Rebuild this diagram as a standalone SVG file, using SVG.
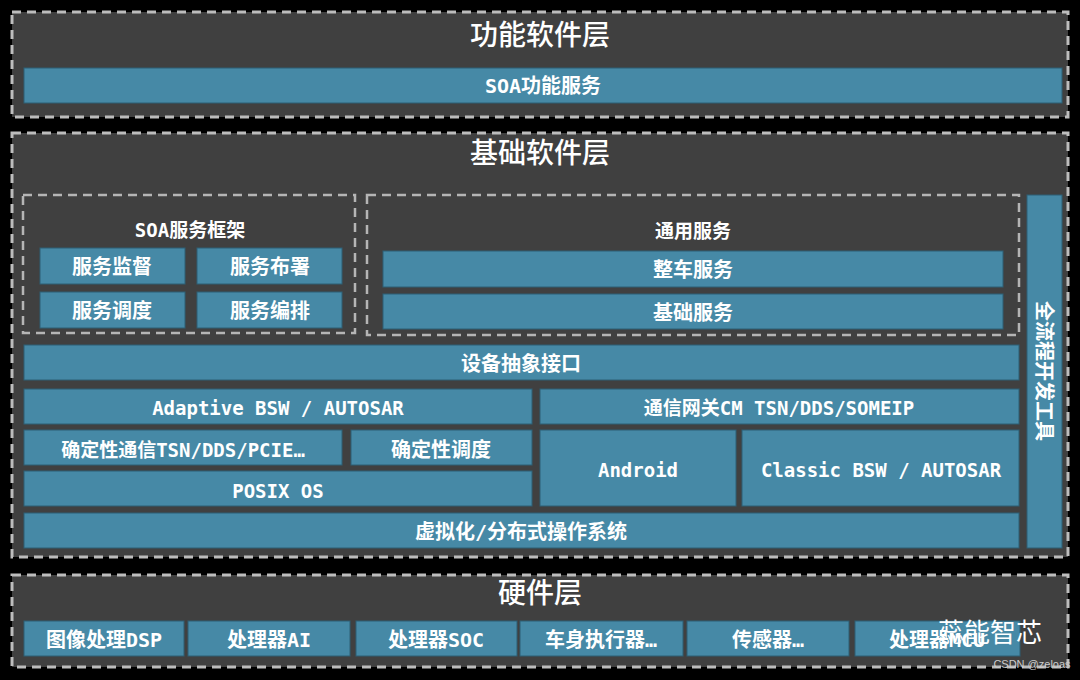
<svg xmlns="http://www.w3.org/2000/svg" width="1080" height="680" viewBox="0 0 1080 680">
<style>
.layer{fill:#404040;stroke:#bdbdbd;stroke-width:3;stroke-dasharray:9 6}
.grp{fill:none;stroke:#b5b5b5;stroke-width:2.5;stroke-dasharray:9 6}
.b{fill:#4689a6;stroke:#2d5f75;stroke-width:1}
text{font-family:"DejaVu Sans Mono","Noto Sans CJK SC",monospace;fill:#fff;text-anchor:middle;dominant-baseline:central;font-weight:bold}
.t{font-size:28px;font-family:"Noto Sans CJK SC",sans-serif;font-weight:500}
.s{font-size:19px}
.m{font-size:20px}
</style>
<rect width="1080" height="680" fill="#000"/>
<g id="functional-layer">
<rect class="layer" x="12" y="12" width="1056" height="105"/>
<text class="t" x="540" y="33">功能软件层</text>
<g id="soa-func"><rect class="b" x="24" y="68" width="1038" height="35"/><text class="m" x="543" y="86">SOA功能服务</text></g>
</g>
<g id="basic-layer">
<rect class="layer" x="12" y="133" width="1056" height="424"/>
<text class="t" x="540" y="151">基础软件层</text>
<g id="soa-framework">
<rect class="grp" x="23" y="195" width="332" height="138"/>
<text class="s" x="190" y="230">SOA服务框架</text>
<rect class="b" x="40" y="248" width="145" height="36"/><text class="m" x="112" y="267">服务监督</text>
<rect class="b" x="197" y="248" width="145" height="36"/><text class="m" x="270" y="267">服务布署</text>
<rect class="b" x="40" y="292" width="145" height="36"/><text class="m" x="112" y="311">服务调度</text>
<rect class="b" x="197" y="292" width="145" height="36"/><text class="m" x="270" y="311">服务编排</text>
</g>
<g id="common-services">
<rect class="grp" x="367" y="195" width="652" height="140"/>
<text class="s" x="693" y="231">通用服务</text>
<rect class="b" x="383" y="251" width="620" height="36"/><text class="m" x="693" y="270">整车服务</text>
<rect class="b" x="383" y="294" width="620" height="35"/><text class="m" x="693" y="313">基础服务</text>
</g>
<g id="devtools"><rect class="b" x="1027" y="195" width="35" height="353"/>
<text class="m" x="0" y="0" transform="translate(1044 371) rotate(90)">全流程开发工具</text></g>
<g id="dai"><rect class="b" x="24" y="345" width="995" height="35"/><text class="m" x="521" y="364">设备抽象接口</text></g>
<g id="adaptive"><rect class="b" x="24" y="389" width="508" height="35"/><text class="s" x="278" y="408">Adaptive BSW / AUTOSAR</text></g>
<g id="gateway"><rect class="b" x="540" y="389" width="479" height="35"/><text class="s" x="779" y="408">通信网关CM TSN/DDS/SOMEIP</text></g>
<g id="detcomm"><rect class="b" x="24" y="430" width="318" height="35"/><text class="s" x="183" y="450">确定性通信TSN/DDS/PCIE…</text></g>
<g id="detsched"><rect class="b" x="351" y="430" width="181" height="35"/><text class="m" x="441" y="450">确定性调度</text></g>
<g id="posix"><rect class="b" x="24" y="471" width="508" height="35"/><text class="s" x="278" y="491">POSIX OS</text></g>
<g id="android"><rect class="b" x="540" y="430" width="196" height="76"/><text class="s" x="638" y="470">Android</text></g>
<g id="classic"><rect class="b" x="742" y="430" width="277" height="76"/><text class="s" x="881" y="470">Classic BSW / AUTOSAR</text></g>
<g id="virt"><rect class="b" x="24" y="513" width="995" height="35"/><text class="m" x="521" y="532">虚拟化/分布式操作系统</text></g>
</g>
<g id="hardware-layer">
<rect class="layer" x="12" y="575" width="1056" height="92"/>
<text class="t" x="540" y="591">硬件层</text>
<g id="dsp"><rect class="b" x="24" y="621" width="160" height="35"/><text class="m" x="104" y="640">图像处理DSP</text></g>
<g id="ai"><rect class="b" x="188" y="621" width="162" height="35"/><text class="m" x="269" y="640">处理器AI</text></g>
<g id="soc"><rect class="b" x="356" y="621" width="161" height="35"/><text class="m" x="436" y="640">处理器SOC</text></g>
<g id="body"><rect class="b" x="520" y="621" width="163" height="35"/><text class="m" x="601" y="640">车身执行器…</text></g>
<g id="sensor"><rect class="b" x="687" y="621" width="162" height="35"/><text class="m" x="768" y="640">传感器…</text></g>
<g id="mcu"><rect class="b" x="855" y="621" width="165" height="35"/><text class="m" x="937" y="640">处理器MCU</text></g>
</g>
<g id="watermark">
<text x="990" y="630" style="font-size:26px;font-family:'Noto Sans CJK SC',sans-serif;font-weight:normal">蕊能智芯</text>
<text x="1032" y="664" style="font-size:11px;font-family:'Liberation Sans',sans-serif;fill:#ccc;font-weight:normal">CSDN @zeloas</text>
</g>
</svg>
